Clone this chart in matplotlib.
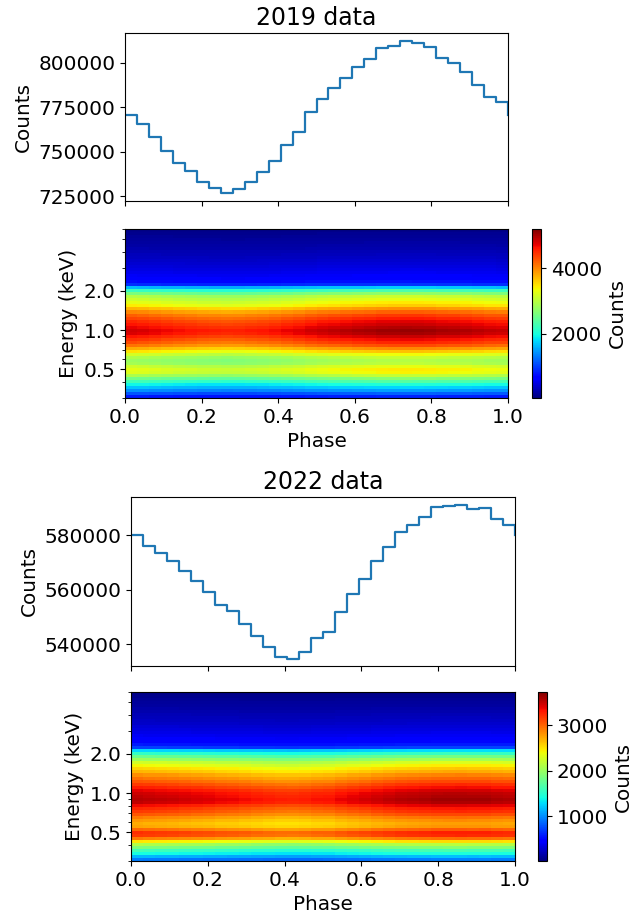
import matplotlib
matplotlib.use("Agg")
import matplotlib.pyplot as plt
import numpy as np
from matplotlib.ticker import FormatStrFormatter, NullFormatter

# light curves, 32 phase bins
counts_2019 = [770700, 765480, 758200, 750550, 743830, 739170, 733000, 729840,
               726850, 729280, 733380, 738800, 744770, 753720, 761370, 772570,
               780030, 786000, 791790, 797760, 802240, 808210, 809330, 812320,
               811380, 808960, 802990, 800000, 795150, 787870, 781150, 777980]
counts_2022 = [580000, 576200, 573370, 570675, 567000, 563190, 559260, 554360,
               552390, 547610, 543070, 539020, 535460, 534730, 537300, 542450,
               544420, 552020, 558530, 564050, 570550, 575830, 581230, 583930,
               586630, 590310, 590800, 591290, 589690, 590180, 585890, 583930]

# mean spectrum per energy row, read top down then flipped to low -> high energy
spectrum_2019 = [80, 110, 135, 160, 185, 210, 235, 270, 300, 330, 370, 410, 450, 490,
                 530, 580, 630, 720, 900, 1630, 2200, 2615, 2975, 3130, 3285, 3440,
                 3750, 4010, 4220, 4375, 4530, 4630, 4735, 4840, 4785, 4630, 4475,
                 4320, 4115, 3805, 3495, 3185, 2925, 2820, 2875, 3130, 3285, 3235,
                 2925, 2565, 2255, 1945, 1685, 1425, 1115, 805][::-1]
spectrum_2022 = [45, 65, 85, 105, 120, 140, 160, 185, 205, 225, 250, 285, 315, 345,
                 380, 425, 470, 550, 700, 1240, 1500, 1760, 1980, 2205, 2355, 2500,
                 2615, 2765, 2875, 2985, 3100, 3210, 3320, 3395, 3430, 3470, 3430,
                 3285, 3170, 3100, 2985, 2835, 2725, 2650, 2690, 2910, 3135, 3100,
                 2835, 2430, 2055, 1835, 1570, 1385, 1125, 905][::-1]

WIDTH, HEIGHT = 644, 914
plt.rcParams["font.size"] = 14.4


def px_axes(fig, left, top, right, bottom):
    # axes box given in image pixels
    return fig.add_axes([left / WIDTH, 1 - bottom / HEIGHT,
                         (right - left) / WIDTH, (bottom - top) / HEIGHT])


def plot_year(fig, title, counts, spectrum, box, ylim, clim, cticks):
    left, right, top1, bot1, top2, bot2, cleft, cright = box
    phase = np.linspace(0, 1, len(counts) + 1)

    ax = px_axes(fig, left, top1, right, bot1)
    ax.step(phase, counts + counts[:1], where="post", linewidth=1.6)
    ax.set_xlim(0, 1)
    ax.set_ylim(*ylim)
    ax.set_xticks(np.arange(0, 1.01, 0.2))
    ax.set_xticklabels([])
    ax.set_ylabel("Counts")
    ax.set_title(title, fontsize=17)

    # each column is the spectrum scaled by the light curve of that phase bin
    scale = np.array(counts) / np.mean(counts)
    image = np.outer(spectrum, scale)
    energy = np.geomspace(0.3, 6, len(spectrum) + 1)

    ax2 = px_axes(fig, left, top2, right, bot2)
    mesh = ax2.pcolormesh(phase, energy, image, cmap="jet", vmin=clim[0], vmax=clim[1])
    ax2.set_yscale("log")
    ax2.set_ylim(0.3, 6)
    ax2.set_xlim(0, 1)
    ax2.set_xticks(np.arange(0, 1.01, 0.2))
    ax2.set_yticks([0.5, 1.0, 2.0])
    ax2.yaxis.set_major_formatter(FormatStrFormatter("%.1f"))
    ax2.yaxis.set_minor_formatter(NullFormatter())
    ax2.set_xlabel("Phase")
    ax2.set_ylabel("Energy (keV)")

    cax = px_axes(fig, cleft, top2, cright, bot2)
    cbar = fig.colorbar(mesh, cax=cax)
    cbar.set_ticks(cticks)
    cbar.set_label("Counts")


fig = plt.figure(figsize=(WIDTH / 100, HEIGHT / 100), dpi=100)
plot_year(fig, "2019 data", counts_2019, spectrum_2019,
          (125, 508, 33, 201, 229, 398, 532, 541),
          (722470, 816850), (30, 5200), [2000, 4000])
plot_year(fig, "2022 data", counts_2022, spectrum_2022,
          (131, 515, 497, 666, 692, 861, 538, 547),
          (532000, 594100), (10, 3730), [1000, 2000, 3000])
fig.savefig("out.png", dpi=100)
